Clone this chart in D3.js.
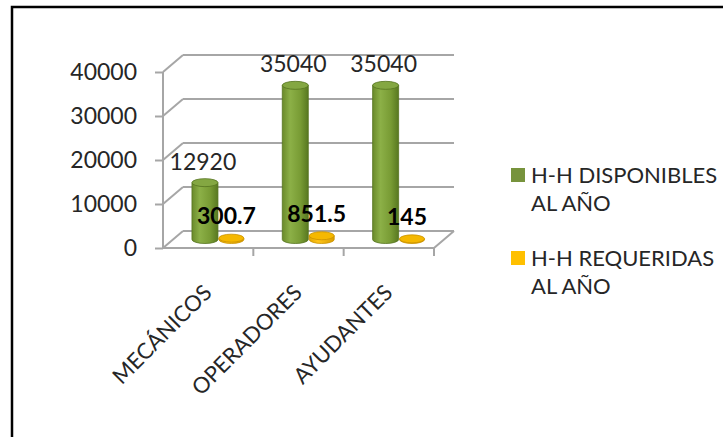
<!DOCTYPE html>
<html>
<head>
<meta charset="utf-8">
<script src="https://cdn.jsdelivr.net/npm/d3@7/dist/d3.min.js"></script>
<style>
  html, body { margin: 0; padding: 0; background: #fff; }
  svg { display: block; }
  text { font-family: Lato, "Open Sans", sans-serif; }
</style>
</head>
<body>
<svg id="chart" width="723" height="437"></svg>
<script>
// Horas-hombre por puesto
const categories = ["MECÁNICOS", "OPERADORES", "AYUDANTES"];
const seriesNames = ["H-H DISPONIBLES AL AÑO", "H-H REQUERIDAS AL AÑO"];
const disponibles = [12920, 35040, 35040];
const requeridas = [300.7, 851.5, 145];
const yTicks = [0, 10000, 20000, 30000, 40000];
const legendLines = [["H-H DISPONIBLES", "AL AÑO"], ["H-H REQUERIDAS", "AL AÑO"]];

const svg = d3.select("#chart");
const FS = 23;
const FONT = "Lato, 'Open Sans', sans-serif";

// outer frame
svg.append("rect").attr("x", 12).attr("y", 7).attr("width", 800).attr("height", 500)
  .attr("fill", "none").attr("stroke", "#000").attr("stroke-width", 2.5);

// 3D projection: depth offset of the back wall
const depth = { dx: 20, dy: -17 };

const y = d3.scaleLinear().domain([0, 40000]).range([248, 72]);
const x = d3.scaleBand().domain(categories).range([163, 434]);
const xs = d3.scaleBand().domain(seriesNames).range([0, x.bandwidth()]).paddingInner(0).paddingOuter(0.71);

const gridColor = "#a6a6a6";
const g = svg.append("g");

// back wall gridlines and side-wall diagonals
yTicks.forEach(v => {
  const yy = y(v);
  g.append("line").attr("x1", x.range()[0]).attr("y1", yy)
    .attr("x2", x.range()[0] + depth.dx).attr("y2", yy + depth.dy)
    .attr("stroke", gridColor).attr("stroke-width", 2);
  g.append("line").attr("x1", x.range()[0] + depth.dx).attr("y1", yy + depth.dy)
    .attr("x2", x.range()[1] + depth.dx).attr("y2", yy + depth.dy)
    .attr("stroke", gridColor).attr("stroke-width", 2);
});
// floor
g.append("path")
  .attr("d", `M${x.range()[0]},${y(0)} L${x.range()[1]},${y(0)} L${x.range()[1] + depth.dx},${y(0) + depth.dy}`)
  .attr("fill", "none").attr("stroke", gridColor).attr("stroke-width", 2);

// value axis
const yAxis = d3.axisLeft(y).tickValues(yTicks).tickSize(8).tickPadding(18).tickFormat(d3.format("d"));
const ya = svg.append("g").attr("transform", `translate(${x.range()[0]},0)`).call(yAxis);
ya.select(".domain").attr("stroke", gridColor).attr("stroke-width", 2)
  .attr("d", `M0,${y(0)}V${y(40000)}`);
ya.selectAll(".tick line").attr("stroke", gridColor).attr("stroke-width", 2);
ya.selectAll(".tick text").attr("font-size", FS).attr("fill", "#262626")
  .attr("font-family", FONT);

// category axis ticks at band boundaries
const bounds = categories.map(c => x(c)).concat([x.range()[1]]);
svg.append("g").selectAll("line").data(bounds.slice(1)).join("line")
  .attr("x1", d => d).attr("x2", d => d)
  .attr("y1", y(0)).attr("y2", y(0) + 8)
  .attr("stroke", gridColor).attr("stroke-width", 2);

svg.append("g").selectAll("text").data(categories).join("text")
  .attr("transform", d => `translate(${x(d) + x.bandwidth() / 2 + 5},${y(0) + 46}) rotate(-45)`)
  .attr("text-anchor", "end")
  .attr("font-size", 22).attr("fill", "#262626")
  .text(d => d);

// gradients for the cylinders
const defs = svg.append("defs");
function cylGrad(id, stops) {
  const lg = defs.append("linearGradient").attr("id", id).attr("x1", "0%").attr("x2", "100%");
  stops.forEach(([o, c]) => lg.append("stop").attr("offset", o).attr("stop-color", c));
}
cylGrad("gGreen", [["0%", "#6a8a2a"], ["30%", "#8cb047"], ["70%", "#789b34"], ["100%", "#587820"]]);
cylGrad("gYellow", [["0%", "#e0a500"], ["35%", "#ffc51a"], ["100%", "#d99d00"]]);

const ry = 4;
const mid = { dx: depth.dx * 0.5, dy: depth.dy * 0.5 };

function cylinder(sel, cx, rx, v, fill, topFill, stroke) {
  const yb = y(0) + mid.dy, yt = y(v) + mid.dy;
  const L = cx - rx, R = cx + rx;
  sel.append("path")
    .attr("d", `M${L},${yt} L${L},${yb} A${rx},${ry} 0 0 0 ${R},${yb} L${R},${yt} Z`)
    .attr("fill", fill).attr("stroke", stroke).attr("stroke-width", 0.8);
  sel.append("ellipse").attr("cx", cx).attr("cy", yt).attr("rx", rx).attr("ry", ry)
    .attr("fill", topFill).attr("stroke", stroke).attr("stroke-width", 0.8);
}

const bars = svg.append("g");
categories.forEach((c, i) => {
  const cxG = x(c) + xs(seriesNames[0]) + xs.bandwidth() / 2 + mid.dx;
  const cxY = x(c) + xs(seriesNames[1]) + xs.bandwidth() / 2 + mid.dx;
  cylinder(bars, cxG, 13, disponibles[i], "url(#gGreen)", "#84a742", "#55731f");
  cylinder(bars, cxY, 12.5, requeridas[i], "url(#gYellow)", "#f5b800", "#c99200");
});

// data labels
const labels = svg.append("g");
categories.forEach((c, i) => {
  const cxG = x(c) + xs(seriesNames[0]) + xs.bandwidth() / 2 + mid.dx;
  const cxY = x(c) + xs(seriesNames[1]) + xs.bandwidth() / 2 + mid.dx;
  labels.append("text").attr("x", cxG - 2).attr("y", y(disponibles[i]) + mid.dy - 22)
    .attr("text-anchor", "middle").attr("dominant-baseline", "central")
    .attr("font-size", FS).attr("fill", "#262626").text(disponibles[i]);
  labels.append("text").attr("x", cxY - 5).attr("y", y(requeridas[i]) + mid.dy - 23)
    .attr("text-anchor", "middle").attr("dominant-baseline", "central")
    .attr("font-size", FS).attr("font-weight", "bold").attr("fill", "#000").text(requeridas[i]);
});

// legend
const legColors = ["#77933c", "#ffc000"];
const leg = svg.append("g");
legendLines.forEach((lines, i) => {
  const top = 168 + i * 83;
  leg.append("rect").attr("x", 511).attr("y", top).attr("width", 14).attr("height", 14)
    .attr("fill", legColors[i]);
  lines.forEach((t, j) => {
    leg.append("text").attr("x", 531).attr("y", top + 15 + j * 28)
      .attr("font-size", 22).attr("fill", "#262626").text(t);
  });
});
</script>
</body>
</html>
